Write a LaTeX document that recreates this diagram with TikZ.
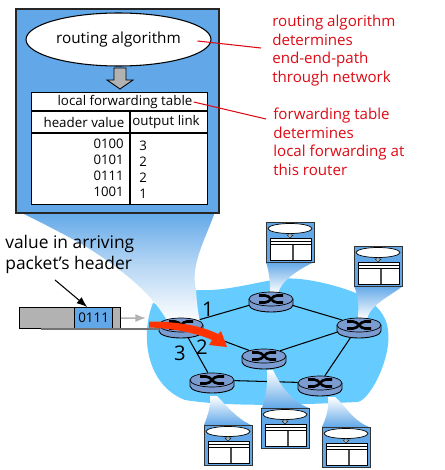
\documentclass[tikz,border=0pt]{standalone}
\usepackage{fontspec}
\setmainfont{Open Sans}
\usetikzlibrary{shapes.geometric,arrows.meta,backgrounds}
\definecolor{boxblue}{HTML}{62A8E8}
\definecolor{cloudblue}{HTML}{66CCFF}
\definecolor{routerblue}{HTML}{7B9CD0}
\definecolor{notered}{HTML}{DD0A14}
\definecolor{packetgray}{HTML}{B2B2B2}
\definecolor{arroworange}{HTML}{FF3300}
\newlength{\pxu}
\setlength{\pxu}{0.02cm}
\tikzset{
  notetext/.style={text=notered, align=left, anchor=north west, inner sep=0pt, font=\fontsize{8.6}{10.5}\selectfont},
  tabletext/.style={inner sep=0pt, font=\fontsize{7.6}{9}\selectfont},
  numtext/.style={inner sep=0pt, font=\fontsize{11.5}{13}\selectfont},
  routertop/.style={draw=black, fill=routerblue, ellipse, minimum width=44\pxu, minimum height=14\pxu, inner sep=0pt},
  link/.style={draw=black, line width=0.6pt},
  rednote/.style={draw=notered, line width=0.6pt}
}
% one router: \routerat{name}{x}{y}
\newcommand{\routerat}[3]{
  \fill[routerblue] (#2-22,#3) -- (#2-22,#3+6) arc[x radius=22, y radius=-7, start angle=180, end angle=360] -- (#2+22,#3) -- cycle;
  \draw[line width=0.5pt] (#2-22,#3) -- (#2-22,#3+6) arc[x radius=22, y radius=-7, start angle=180, end angle=360] -- (#2+22,#3);
  \node[routertop] (#1) at (#2,#3) {};
  \draw[line width=1.5pt] (#2-12,#3-3.5) -- (#2-6,#3-3.5) to[out=0,in=180] (#2+6,#3+3.5) -- (#2+12,#3+3.5);
  \draw[line width=1.5pt] (#2-12,#3+3.5) -- (#2-6,#3+3.5) to[out=0,in=180] (#2+6,#3-3.5) -- (#2+12,#3-3.5);
}
% small copy of the table: \tableat{name}{left}{top}
\newcommand{\tableat}[3]{
  \node[draw=black!80, line width=0.8pt, fill=boxblue, minimum width=48\pxu, minimum height=39.5\pxu, inner sep=0pt, anchor=north west] (#1) at (#2,#3) {};
  \node[draw=black, fill=white, ellipse, line width=0.4pt, minimum width=44\pxu, minimum height=10\pxu, inner sep=0pt] (#1e) at (#2+24,#3+6.5) {};
  \fill[packetgray, draw=black, line width=0.2pt] (#2+23,#3+11.5) -- (#2+25,#3+11.5) -- (#2+25,#3+13) -- (#2+27,#3+13) -- (#2+24,#3+16) -- (#2+21,#3+13) -- (#2+23,#3+13) -- cycle;
  \draw[fill=white, line width=0.5pt] (#2+4,#3+16) rectangle (#2+45,#3+38);
  \draw[line width=0.5pt] (#2+4,#3+19.5) -- (#2+45,#3+19.5) (#2+4,#3+22.5) -- (#2+45,#3+22.5);
  \draw[black!70, line width=0.7pt] (#2+27,#3+22.5) -- (#2+27,#3+38);
}
\begin{document}
\begin{tikzpicture}[x=0.02cm,y=-0.02cm]
\useasboundingbox (0,0) rectangle (444,470);

% routers
\routerat{routerA}{181}{325}
\routerat{routerB}{212}{380}
\routerat{routerC}{271}{299}
\routerat{routerD}{359}{325}
\routerat{routerE}{264}{356}
\routerat{routerF}{320}{383}

\begin{scope}[on background layer]
% network cloud
\fill[cloudblue] (153,303) .. controls (140,335) and (146,385) .. (185,400)
  .. controls (235,408) and (310,404) .. (358,402)
  .. controls (372,398) and (392,355) .. (388,330)
  .. controls (386,313) and (375,305) .. (365,297)
  .. controls (340,285) and (300,276) .. (280,279)
  .. controls (260,281) and (225,292) .. (197,290) -- (175,310) -- cycle;

% links
\draw[link] (routerA) -- (routerC);
\draw[link] (routerA) -- (routerE);
\draw[link] (routerA) -- (routerB);
\draw[link] (routerC) -- (routerD);
\draw[link] (routerD) -- (routerE);
\draw[link] (routerD) -- (routerF);
\draw[link] (routerB) -- (routerF);

% big funnel
\shade[top color=boxblue, bottom color=white, middle color=boxblue!45]
  (20,212) -- (215,212) .. controls (205,240) and (190,265) .. (196,290)
  .. controls (197,305) and (198,312) .. (200,322) -- (168,322)
  .. controls (150,290) and (115,265) .. (85,246) .. controls (60,232) and (40,222) .. (20,212) -- cycle;

% small funnels
\shade[top color=boxblue, bottom color=white] (266,262) .. controls (270,275) and (270,285) .. (270,293) -- (278,293) .. controls (282,280) and (298,270) .. (314,262) -- cycle;
\shade[top color=boxblue, bottom color=white] (354,286) .. controls (360,300) and (358,310) .. (358,319) -- (367,319) .. controls (370,305) and (390,296) .. (403,286) -- cycle;
\shade[bottom color=boxblue, top color=white] (267,370) .. controls (268,385) and (266,395) .. (262,408) -- (309,408) .. controls (292,402) and (280,385) .. (273,370) -- cycle;
\shade[bottom color=boxblue, top color=white] (328,397) .. controls (329,410) and (326,418) .. (322,427) -- (369,427) .. controls (352,420) and (345,405) .. (335,397) -- cycle;
\shade[bottom color=boxblue, top color=white] (210,396) .. controls (211,405) and (208,415) .. (204,425) -- (251,425) .. controls (236,418) and (226,405) .. (217,396) -- cycle;
\end{scope}

% small tables
\tableat{tableC}{266}{222}
\tableat{tableD}{354}{246}
\tableat{tableE}{261}{408}
\tableat{tableF}{322}{427}
\tableat{tableB}{204}{425}

% big box
\node[draw=black!85, line width=1pt, fill=boxblue, minimum width=203\pxu, minimum height=204\pxu, inner sep=0pt, anchor=north west] (routerbox) at (15,8) {};
\node[draw=black, fill=white, ellipse, line width=0.6pt, minimum width=185\pxu, minimum height=53\pxu, inner sep=0pt, font=\fontsize{8.7}{11}\selectfont] (algo) at (118.5,39.5) {routing algorithm};
\node[draw=black, fill=white, line width=0.7pt, minimum width=176\pxu, minimum height=112\pxu, inner sep=0pt, anchor=north west] (fwdtable) at (31,92) {};
\node[tabletext] (tabletitle) at (125,102) {local forwarding table};
\node[tabletext] (headval) at (84,122) {header value};
\node[tabletext] (headlink) at (166,122) {output link};
\node[tabletext, align=right, anchor=north east, font=\fontsize{7.5}{9.07}\selectfont] (values) at (124,139) {0100\\0101\\0111\\1001};
\node[tabletext, align=left, anchor=north west, font=\fontsize{7.5}{9.07}\selectfont] (links) at (139,141) {3\\2\\2\\1};
\draw[line width=0.7pt] (31,111) -- (207,111);
\draw[line width=0.7pt] (31,133) -- (207,133);
\draw[line width=0.7pt] (130,111) -- (130,204);
\draw[draw=black, fill=packetgray, line width=0.5pt] (114,68) -- (126,68) -- (126,80) -- (133,80) -- (120,89) -- (107,80) -- (114,80) -- cycle;

% red notes
\node[notetext] (note1) at (272,15) {routing algorithm\\determines\\end-end-path\\through network};
\node[notetext] (note2) at (273,108) {forwarding table\\determines\\local forwarding at\\this router};
\coordinate (note1end) at (261,48);
\coordinate (note2end) at (266,119);
\draw[rednote] (algo.center)+(79,1.5) -- (note1end);
\draw[rednote] (tabletitle.east)+(1,0) -- (note2end);

% packet
\node[draw=black, fill=packetgray, minimum width=101\pxu, minimum height=21\pxu, inner sep=0pt, anchor=north west, line width=0.7pt] (packet) at (19,307) {};
\node[draw=black, fill=boxblue, minimum width=38\pxu, minimum height=21\pxu, inner sep=0pt, anchor=north west, line width=0.7pt, tabletext] (header) at (74,307) {0111};
\coordinate (linestart) at (41,329);
\draw[black!55, line width=1.5pt] (linestart) -- (linestart -| routerA.west);
\coordinate (grayend) at (146,318);
\draw[packetgray, line width=0.8pt, -{Latex[length=6pt]}] (packet.east) -- (grayend);

% arriving label
\node[inner sep=0pt, align=left, anchor=north west, font=\fontsize{9.9}{11.7}\selectfont] (arrive) at (5,235) {value in arriving\\packet's header};
\coordinate (arrivestart) at (55,280);
\draw[line width=0.6pt, -{Latex[length=6pt]}] (arrivestart) -- (header.120);

% red arrow
\fill[arroworange] (149,321.5) .. controls (175,321.5) and (200,325) .. (218,334) -- (221,331) -- (227,347) -- (209,345) -- (212,340) .. controls (195,332.5) and (170,328) .. (149,327.5) -- cycle;

% link numbers
\node[numtext] (num1) at (208,309) {1};
\node[numtext] (num2) at (202,347) {2};
\node[numtext] (num3) at (180,353) {3};
\end{tikzpicture}
\end{document}
